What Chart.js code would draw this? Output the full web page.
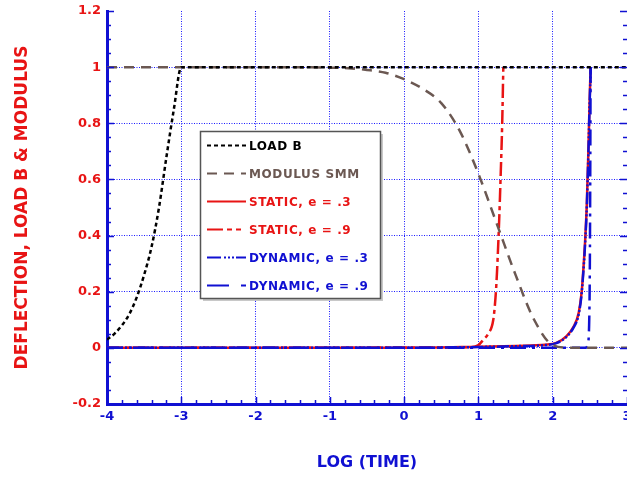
<!DOCTYPE html>
<html>
<head>
<meta charset="utf-8">
<script src="https://cdn.jsdelivr.net/npm/chart.js@4"></script>
<style>
  body { margin: 0; background: #fff; }
  canvas { display: block; }
</style>
</head>
<body>
<canvas id="deflChart" width="627" height="477"></canvas>
<script>
// log(time) samples and values for each curve
const loadTime = [-4, -3.9, -3.8, -3.7, -3.6, -3.5, -3.4, -3.3, -3.2, -3.1, -3.0, 3];
const loadB = [0.03, 0.05, 0.08, 0.12, 0.18, 0.26, 0.36, 0.50, 0.68, 0.85, 1.0, 1.0];

const modTime = [-4, -1.5, -1, -0.75, -0.5, -0.25, 0, 0.25, 0.5, 0.75, 1.0, 1.25, 1.5, 1.75, 2.0, 2.25, 3];
const modulusSMM = [1, 1, 0.998, 0.996, 0.99, 0.98, 0.957, 0.923, 0.872, 0.772, 0.62, 0.44, 0.26, 0.10, 0.01, 0, 0];

const static3Time = [-4, 0, 1.0, 1.5, 1.9, 2.05, 2.18, 2.28, 2.35, 2.39, 2.42, 2.44, 2.46, 2.48, 2.495, 2.51];
const static3 = [0, 0, 0.004, 0.007, 0.011, 0.018, 0.04, 0.075, 0.125, 0.2, 0.31, 0.40, 0.52, 0.70, 0.86, 1.0];

const static9Time = [-4, 0.9, 1.0, 1.07, 1.13, 1.2, 1.23, 1.25, 1.28, 1.3, 1.32, 1.335];
const static9 = [0, 0.002, 0.01, 0.03, 0.05, 0.10, 0.18, 0.27, 0.46, 0.62, 0.80, 1.0];

const dyn3Time = [-4, 0, 1.0, 1.5, 1.9, 2.05, 2.18, 2.28, 2.35, 2.39, 2.42, 2.44, 2.46, 2.48, 2.495, 2.512];
const dynamic3 = [0, 0, 0.003, 0.006, 0.010, 0.017, 0.038, 0.072, 0.12, 0.195, 0.30, 0.39, 0.51, 0.69, 0.85, 1.0];

const dyn9Time = [-4, 2.44, 2.47, 2.49, 2.5, 2.505, 2.51];
const dynamic9 = [0, 0, 0.01, 0.08, 0.3, 0.6, 1.0];

const xTicks = [-4, -3, -2, -1, 0, 1, 2, 3];
const yTicks = [-0.2, 0, 0.2, 0.4, 0.6, 0.8, 1, 1.2];

const RED = '#e81414';
const BLUE = '#1010d2';
const GRID = '#1a1aff';
const BROWN = '#6b5852';
const FONT = "'DejaVu Sans', sans-serif";

function pts(xs, ys) {
  return xs.map((x, i) => ({ x: x, y: ys[i] }));
}

// inward major/minor ticks on left, right and bottom edges
const minorTicks = {
  id: 'minorTicks',
  afterDraw(chart) {
    const { ctx, chartArea } = chart;
    const xs = chart.scales.x, ys = chart.scales.y;
    ctx.save();
    ctx.strokeStyle = BLUE;
    ctx.lineWidth = 1.5;
    ctx.beginPath();
    for (let i = 0; i <= 28; i++) {
      const py = Math.round(ys.getPixelForValue(-0.2 + i * 0.05)) + 0.5;
      const len = i % 4 === 0 ? 7 : 4;
      ctx.moveTo(chartArea.left, py);
      ctx.lineTo(chartArea.left + len, py);
      ctx.moveTo(chartArea.right, py);
      ctx.lineTo(chartArea.right - len, py);
    }
    for (let i = 0; i <= 35; i++) {
      const px = Math.round(xs.getPixelForValue(-4 + i * 0.2)) + 0.5;
      const len = i % 5 === 0 ? 7 : 4;
      ctx.moveTo(px, chartArea.bottom);
      ctx.lineTo(px, chartArea.bottom - len);
    }
    ctx.stroke();
    ctx.restore();
  }
};

// boxed legend inside the plot
const legendBox = {
  id: 'legendBox',
  afterDraw(chart) {
    const ctx = chart.ctx;
    const left = 200, top = 131, w = 180, h = 167;
    ctx.save();
    ctx.fillStyle = '#c8c8c8';
    ctx.fillRect(left + 3, top + 3, w, h);
    ctx.fillStyle = '#ffffff';
    ctx.fillRect(left, top, w, h);
    ctx.strokeStyle = '#555555';
    ctx.lineWidth = 1.5;
    ctx.strokeRect(left + 0.5, top + 0.5, w, h);
    ctx.font = 'bold 12px ' + FONT;
    ctx.textBaseline = 'middle';
    if ('letterSpacing' in ctx) ctx.letterSpacing = '0.6px';
    chart.data.datasets.forEach((ds, i) => {
      const y = Math.round(top + 14 + i * 27.9) + 0.5;
      ctx.strokeStyle = ds.borderColor;
      ctx.lineWidth = 2.2;
      ctx.setLineDash(ds.legendDash || ds.borderDash || []);
      ctx.beginPath();
      ctx.moveTo(207, y);
      ctx.lineTo(246, y);
      ctx.stroke();
      ctx.setLineDash([]);
      ctx.fillStyle = ds.borderColor;
      ctx.fillText(ds.label, 249, y + 1);
    });
    ctx.restore();
  }
};

const ctx = document.getElementById('deflChart');

new Chart(ctx, {
  type: 'line',
  data: {
    datasets: [
      {
        label: 'LOAD B',
        data: pts(loadTime, loadB),
        borderColor: '#000000',
        borderDash: [4, 3],
        order: 0
      },
      {
        label: 'MODULUS SMM',
        data: pts(modTime, modulusSMM),
        borderColor: BROWN,
        borderDash: [10, 7],
        order: 1
      },
      {
        label: 'STATIC, e = .3',
        data: pts(static3Time, static3),
        borderColor: RED,
        borderDash: [],
        order: 4
      },
      {
        label: 'STATIC, e = .9',
        data: pts(static9Time, static9),
        borderColor: RED,
        borderDash: [14, 4, 4, 4],
        legendDash: [16, 4, 5, 4, 5, 20],
        order: 5
      },
      {
        label: 'DYNAMIC, e = .3',
        data: pts(dyn3Time, dynamic3),
        borderColor: BLUE,
        borderDash: [12, 2, 2, 2, 2, 2, 2, 2],
        legendDash: [14, 3, 2, 2, 2, 2, 2, 2],
        order: 2
      },
      {
        label: 'DYNAMIC, e = .9',
        data: pts(dyn9Time, dynamic9),
        borderColor: BLUE,
        borderDash: [16, 6, 3, 6],
        legendDash: [22, 12, 5, 20],
        order: 3
      }
    ]
  },
  options: {
    responsive: false,
    animation: false,
    devicePixelRatio: 1,
    layout: { padding: { top: 11, right: 0, left: 0, bottom: 0 } },
    elements: {
      line: { borderWidth: 2.5, fill: false, cubicInterpolationMode: 'monotone' },
      point: { radius: 0 }
    },
    plugins: {
      legend: { display: false },
      tooltip: { enabled: false }
    },
    scales: {
      x: {
        type: 'linear',
        min: -4,
        max: 3,
        afterBuildTicks: (scale) => { scale.ticks = xTicks.map(v => ({ value: v })); },
        afterFit: (scale) => {
          scale.height = 73;
          scale.paddingLeft = 0;
          scale.paddingRight = 0;
        },
        ticks: {
          color: BLUE,
          font: { family: FONT, size: 13, weight: 'bold' },
          padding: 5,
          maxRotation: 0,
          autoSkip: false
        },
        grid: {
          drawTicks: false,
          color: (c) => (c.tick && (c.tick.value === -4 || c.tick.value === 3)) ? 'rgba(0,0,0,0)' : GRID,
          lineWidth: 1
        },
        border: { color: BLUE, width: 3, dash: [1, 1.5] },
        title: {
          display: true,
          text: 'LOG (TIME)',
          color: BLUE,
          font: { family: FONT, size: 16, weight: 'bold' },
          padding: { top: 0, bottom: 5 }
        }
      },
      y: {
        min: -0.2,
        max: 1.2,
        afterBuildTicks: (scale) => { scale.ticks = yTicks.map(v => ({ value: v })); },
        afterFit: (scale) => {
          scale.width = 107;
          scale.paddingTop = 0;
          scale.paddingBottom = 0;
        },
        ticks: {
          color: RED,
          font: { family: FONT, size: 13, weight: 'bold' },
          padding: 6,
          callback: (v) => String(Math.round(v * 10) / 10)
        },
        grid: {
          drawTicks: false,
          color: (c) => (c.tick && (c.tick.value === 1.2 || c.tick.value === -0.2)) ? 'rgba(0,0,0,0)' : GRID,
          lineWidth: 1
        },
        border: { color: BLUE, width: 3, dash: [1, 1.5] },
        title: {
          display: true,
          text: 'DEFLECTION, LOAD B & MODULUS',
          color: RED,
          font: { family: FONT, size: 17, weight: 'bold' },
          padding: { top: 12, bottom: 0 }
        }
      }
    }
  },
  plugins: [minorTicks, legendBox]
});
</script>
</body>
</html>
